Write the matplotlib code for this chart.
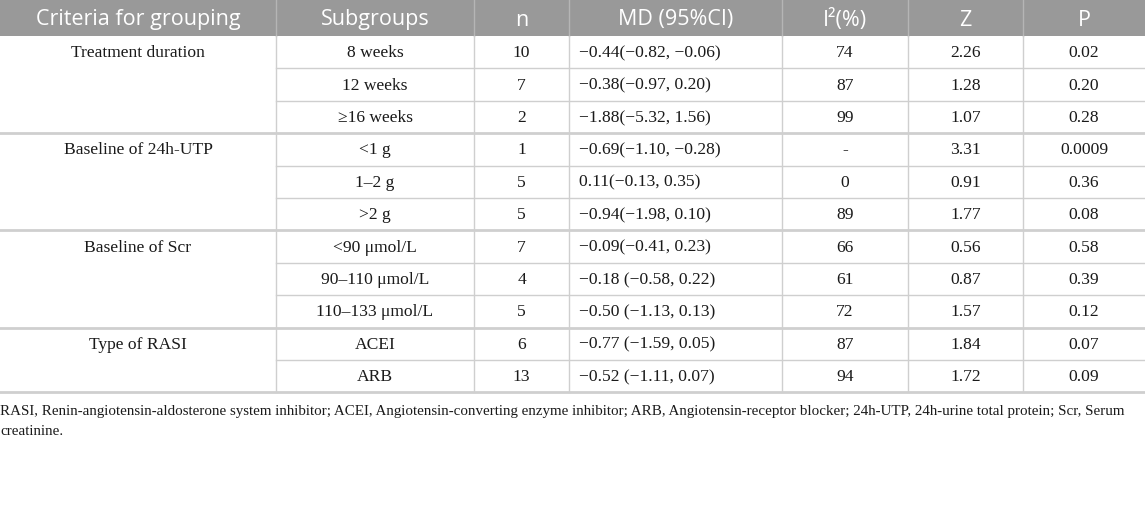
import matplotlib.pyplot as plt

headers = ["Criteria for grouping", "Subgroups", "n", "MD (95%CI)", "I\u00b2(%)", "Z", "P"]
groups = ["Treatment duration", "Baseline of 24h-UTP", "Baseline of Scr", "Type of RASI"]
group_sizes = [3, 3, 3, 2]
subgroups = ["8 weeks", "12 weeks", "\u226516 weeks", "<1 g", "1\u20132 g", ">2 g",
             "<90 \u03bcmol/L", "90\u2013110 \u03bcmol/L", "110\u2013133 \u03bcmol/L", "ACEI", "ARB"]
n_studies = ["10", "7", "2", "1", "5", "5", "7", "4", "5", "6", "13"]
md_ci = ["\u22120.44(\u22120.82, \u22120.06)", "\u22120.38(\u22120.97, 0.20)",
         "\u22121.88(\u22125.32, 1.56)", "\u22120.69(\u22121.10, \u22120.28)",
         "0.11(\u22120.13, 0.35)", "\u22120.94(\u22121.98, 0.10)",
         "\u22120.09(\u22120.41, 0.23)", "\u22120.18 (\u22120.58, 0.22)",
         "\u22120.50 (\u22121.13, 0.13)", "\u22120.77 (\u22121.59, 0.05)",
         "\u22120.52 (\u22121.11, 0.07)"]
i2 = ["74", "87", "99", "-", "0", "89", "66", "61", "72", "87", "94"]
z_vals = ["2.26", "1.28", "1.07", "3.31", "0.91", "1.77", "0.56", "0.87", "1.57", "1.84", "1.72"]
p_vals = ["0.02", "0.20", "0.28", "0.0009", "0.36", "0.08", "0.58", "0.39", "0.12", "0.07", "0.09"]
footnote = ("RASI, Renin-angiotensin-aldosterone system inhibitor; ACEI, Angiotensin-converting enzyme "
            "inhibitor; ARB, Angiotensin-receptor blocker; 24h-UTP, 24h-urine total protein; Scr, Serum\n"
            "creatinine.")

W, H = 1145, 513
col_edges = [0, 276, 474, 569, 782, 908, 1023, 1145]
header_h = 36
row_h = 32.4

fig = plt.figure(figsize=(W / 100, H / 100), dpi=100)
ax = fig.add_axes([0, 0, 1, 1])
ax.set_xlim(0, W)
ax.set_ylim(H, 0)
ax.axis("off")

serif = "Liberation Serif"
sans = "Open Sans"
body_size = 12.6
grid_c = "#cfcfcf"
txt_c = "#1a1a1a"

# header band
ax.fill_between([0, W], 0, header_h, color="#999999", lw=0)
for i, h in enumerate(headers):
    xc = (col_edges[i] + col_edges[i + 1]) / 2
    ax.text(xc, header_h / 2 + 2, h, ha="center", va="center", color="white",
            fontsize=15.5, family=sans)
for x in col_edges[1:-1]:
    ax.plot([x, x], [0, header_h], color="#b5b5b5", lw=1)

n_rows = len(subgroups)
table_bottom = header_h + n_rows * row_h

# body rows
for r in range(n_rows):
    yc = header_h + (r + 0.5) * row_h + 1
    cells = [subgroups[r], n_studies[r], md_ci[r], i2[r], z_vals[r], p_vals[r]]
    for j, txt in enumerate(cells):
        c = j + 1
        if c == 3:
            ax.text(col_edges[c] + 10, yc, txt, ha="left", va="center",
                    fontsize=body_size, family=serif, color=txt_c)
        else:
            xc = (col_edges[c] + col_edges[c + 1]) / 2
            ax.text(xc, yc, txt, ha="center", va="center",
                    fontsize=body_size, family=serif, color=txt_c)

# group labels and horizontal lines
start = 0
for g, size in zip(groups, group_sizes):
    yc = header_h + (start + 0.5) * row_h + 1
    ax.text((col_edges[0] + col_edges[1]) / 2, yc, g, ha="center", va="center",
            fontsize=body_size, family=serif, color=txt_c)
    for k in range(1, size):
        y = header_h + (start + k) * row_h
        ax.plot([col_edges[1], W], [y, y], color=grid_c, lw=1)
    start += size
    y = header_h + start * row_h
    ax.plot([0, W], [y, y], color=grid_c, lw=2)

for x in col_edges[1:-1]:
    ax.plot([x, x], [header_h, table_bottom], color=grid_c, lw=1)

ax.text(0, table_bottom + 13, footnote, ha="left", va="top", fontsize=10.8,
        family=serif, color=txt_c, linespacing=1.65)

fig.savefig("out.png", dpi=100)
